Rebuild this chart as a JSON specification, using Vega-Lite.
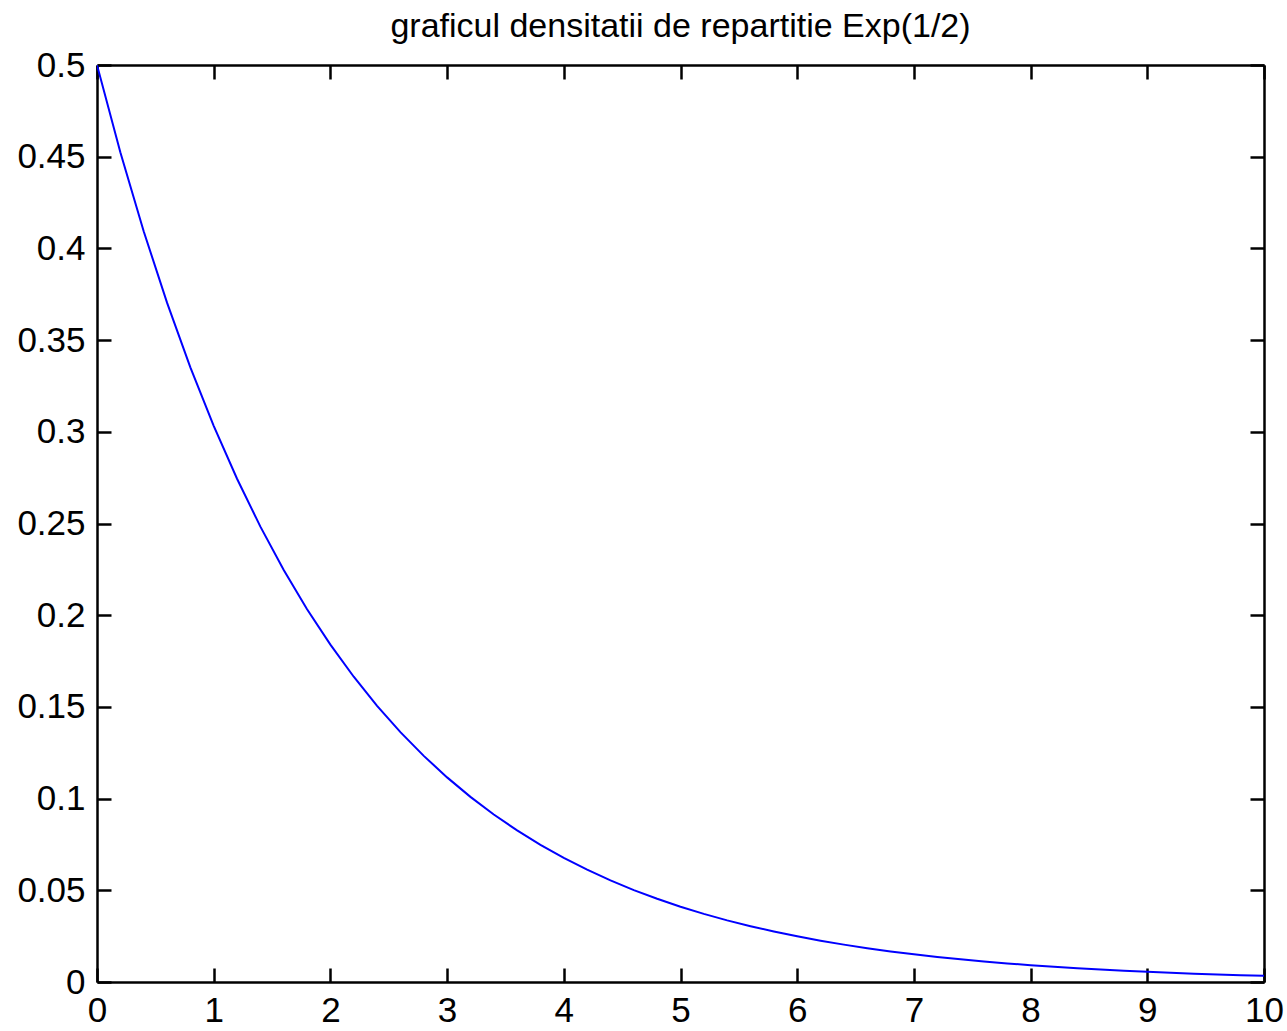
{
  "$schema": "https://vega.github.io/schema/vega-lite/v6.json",
  "autosize": "none",
  "padding": {"left": 97, "top": 65, "right": 23, "bottom": 49},
  "width": 1167,
  "height": 917,
  "background": "white",
  "title": {"text": "graficul densitatii de repartitie Exp(1/2)", "fontSize": 34, "font": "Liberation Sans", "fontWeight": "normal", "color": "black", "anchor": "middle", "frame": "group", "offset": 4},
  "config": {
    "view": {"stroke": null},
    "axis": {"grid": false, "domainColor": "black", "domainWidth": 2.5, "tickColor": "black", "tickWidth": 2.5, "tickSize": -14, "labelFont": "Liberation Sans", "labelFontSize": 35, "labelColor": "black", "title": null}
  },
  "data": {"values": [
    {"x": 0, "y": 0.5}, {"x": 0.2, "y": 0.45242}, {"x": 0.4, "y": 0.40937}, {"x": 0.6, "y": 0.37041}, {"x": 0.8, "y": 0.33516},
    {"x": 1.0, "y": 0.30327}, {"x": 1.2, "y": 0.27441}, {"x": 1.4, "y": 0.24829}, {"x": 1.6, "y": 0.22466}, {"x": 1.8, "y": 0.20328},
    {"x": 2.0, "y": 0.18394}, {"x": 2.2, "y": 0.16644}, {"x": 2.4, "y": 0.1506}, {"x": 2.6, "y": 0.13627}, {"x": 2.8, "y": 0.1233},
    {"x": 3.0, "y": 0.11157}, {"x": 3.2, "y": 0.10095}, {"x": 3.4, "y": 0.09134}, {"x": 3.6, "y": 0.08265}, {"x": 3.8, "y": 0.07478},
    {"x": 4.0, "y": 0.06767}, {"x": 4.2, "y": 0.06123}, {"x": 4.4, "y": 0.0554}, {"x": 4.6, "y": 0.05013}, {"x": 4.8, "y": 0.04536},
    {"x": 5.0, "y": 0.04104}, {"x": 5.2, "y": 0.03714}, {"x": 5.4, "y": 0.0336}, {"x": 5.6, "y": 0.03041}, {"x": 5.8, "y": 0.02751},
    {"x": 6.0, "y": 0.02489}, {"x": 6.2, "y": 0.02252}, {"x": 6.4, "y": 0.02038}, {"x": 6.6, "y": 0.01844}, {"x": 6.8, "y": 0.01669},
    {"x": 7.0, "y": 0.0151}, {"x": 7.2, "y": 0.01366}, {"x": 7.4, "y": 0.01236}, {"x": 7.6, "y": 0.01119}, {"x": 7.8, "y": 0.01012},
    {"x": 8.0, "y": 0.00916}, {"x": 8.2, "y": 0.00829}, {"x": 8.4, "y": 0.0075}, {"x": 8.6, "y": 0.00678}, {"x": 8.8, "y": 0.00614},
    {"x": 9.0, "y": 0.00555}, {"x": 9.2, "y": 0.00503}, {"x": 9.4, "y": 0.00455}, {"x": 9.6, "y": 0.00411}, {"x": 9.8, "y": 0.00372},
    {"x": 10.0, "y": 0.00337}
  ]},
  "layer": [
    {
      "mark": {"type": "line", "color": "#0000ff", "strokeWidth": 2, "clip": true},
      "encoding": {
        "x": {"field": "x", "type": "quantitative", "scale": {"domain": [0, 10], "nice": false, "zero": false},
              "axis": {"orient": "bottom", "values": [0,1,2,3,4,5,6,7,8,9,10], "format": "d", "labelPadding": 25, "labelFlush": false, "labelOverlap": false}},
        "y": {"field": "y", "type": "quantitative", "scale": {"domain": [0, 0.5], "nice": false},
              "axis": {"orient": "left", "values": [0,0.05,0.1,0.15,0.2,0.25,0.3,0.35,0.4,0.45,0.5], "format": ".2~f", "labelPadding": 26, "labelFlush": false, "labelOverlap": false}}
      }
    },
    {
      "mark": {"type": "line", "strokeOpacity": 0},
      "encoding": {
        "x": {"field": "x", "type": "quantitative", "scale": {"domain": [0, 10], "nice": false, "zero": false},
              "axis": {"orient": "top", "values": [0,1,2,3,4,5,6,7,8,9,10], "labels": false}},
        "y": {"field": "y", "type": "quantitative", "scale": {"domain": [0, 0.5], "nice": false},
              "axis": {"orient": "right", "values": [0,0.05,0.1,0.15,0.2,0.25,0.3,0.35,0.4,0.45,0.5], "labels": false}}
      }
    }
  ],
  "resolve": {"axis": {"x": "independent", "y": "independent"}}
}
